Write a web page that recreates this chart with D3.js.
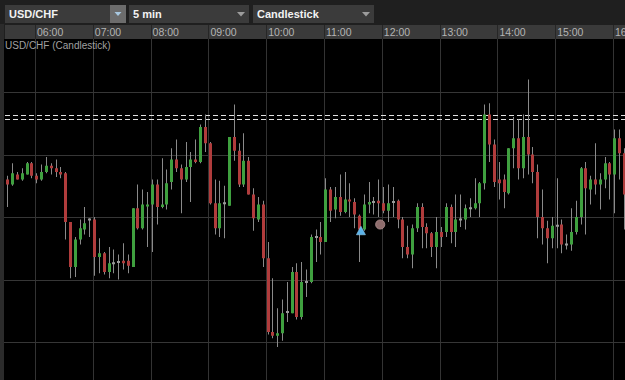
<!DOCTYPE html>
<html><head><meta charset="utf-8">
<script src="https://cdn.jsdelivr.net/npm/d3@7"></script>
<style>
html,body{margin:0;padding:0;background:#1f1f1f;overflow:hidden}
svg{display:block}
</style></head><body>
<script>
// ---- data ----
const symbol = "USD/CHF", intervalLabel = "5 min", chartType = "Candlestick";
const times = [
"05:30","05:35","05:40","05:45","05:50","05:55",
"06:00","06:05","06:10","06:15","06:20","06:25","06:30","06:35","06:40","06:45","06:50","06:55",
"07:00","07:05","07:10","07:15","07:20","07:25","07:30","07:35","07:40","07:45","07:50","07:55",
"08:00","08:05","08:10","08:15","08:20","08:25","08:30","08:35","08:40","08:45","08:50","08:55",
"09:00","09:05","09:10","09:15","09:20","09:25","09:30","09:35","09:40","09:45","09:50","09:55",
"10:00","10:05","10:10","10:15","10:20","10:25","10:30","10:35","10:40","10:45","10:50","10:55",
"11:00","11:05","11:10","11:15","11:20","11:25","11:30","11:35","11:40","11:45","11:50","11:55",
"12:00","12:05","12:10","12:15","12:20","12:25","12:30","12:35","12:40","12:45","12:50","12:55",
"13:00","13:05","13:10","13:15","13:20","13:25","13:30","13:35","13:40","13:45","13:50","13:55",
"14:00","14:05","14:10","14:15","14:20","14:25","14:30","14:35","14:40","14:45","14:50","14:55",
"15:00","15:05","15:10","15:15","15:20","15:25","15:30","15:35","15:40","15:45","15:50","15:55",
"16:00","16:05","16:10"];
const open = [
0.92430,0.92426,0.92434,0.92430,0.92434,0.92443,0.92433,0.92430,0.92436,0.92441,0.92439,0.92436,0.92435,0.92396,0.92360,0.92382,0.92390,0.92398,0.92398,0.92368,
0.92371,0.92356,0.92363,0.92364,0.92365,0.92365,0.92360,0.92407,0.92391,0.92409,0.92410,0.92426,0.92408,0.92410,0.92428,0.92446,0.92439,0.92430,0.92440,0.92446,
0.92444,0.92472,0.92459,0.92411,0.92391,0.92411,0.92409,0.92464,0.92453,0.92426,0.92445,0.92418,0.92398,0.92410,0.92367,0.92308,0.92305,0.92307,0.92324,0.92323,
0.92356,0.92320,0.92348,0.92348,0.92384,0.92384,0.92380,0.92422,0.92406,0.92416,0.92404,0.92414,0.92412,0.92401,0.92390,0.92410,0.92412,0.92413,0.92411,0.92405,
0.92412,0.92413,0.92398,0.92376,0.92370,0.92391,0.92408,0.92392,0.92387,0.92376,0.92388,0.92388,0.92408,0.92388,0.92398,0.92398,0.92407,0.92407,0.92411,0.92427,
0.92482,0.92458,0.92430,0.92430,0.92419,0.92455,0.92463,0.92439,0.92464,0.92450,0.92436,0.92400,0.92391,0.92383,0.92393,0.92394,0.92378,0.92378,0.92388,0.92400,
0.92439,0.92422,0.92430,0.92426,0.92430,0.92443,0.92434,0.92463,0.92451];
const high = [
0.92433,0.92443,0.92436,0.92439,0.92444,0.92444,0.92435,0.92442,0.92448,0.92443,0.92446,0.92440,0.92436,0.92396,0.92384,0.92398,0.92408,0.92399,0.92400,0.92383,
0.92372,0.92376,0.92374,0.92370,0.92379,0.92370,0.92407,0.92426,0.92422,0.92420,0.92430,0.92430,0.92447,0.92438,0.92455,0.92462,0.92442,0.92460,0.92452,0.92462,
0.92474,0.92482,0.92460,0.92430,0.92429,0.92425,0.92464,0.92490,0.92459,0.92467,0.92448,0.92423,0.92416,0.92413,0.92380,0.92351,0.92327,0.92334,0.92348,0.92360,
0.92363,0.92364,0.92358,0.92386,0.92390,0.92396,0.92431,0.92424,0.92424,0.92434,0.92436,0.92427,0.92415,0.92402,0.92418,0.92428,0.92416,0.92430,0.92424,0.92426,
0.92424,0.92414,0.92400,0.92393,0.92394,0.92411,0.92411,0.92395,0.92388,0.92400,0.92392,0.92411,0.92410,0.92418,0.92418,0.92410,0.92415,0.92431,0.92428,0.92490,
0.92491,0.92462,0.92444,0.92434,0.92455,0.92480,0.92478,0.92482,0.92510,0.92456,0.92442,0.92422,0.92397,0.92400,0.92431,0.92398,0.92386,0.92407,0.92413,0.92440,
0.92444,0.92433,0.92459,0.92435,0.92448,0.92444,0.92470,0.92470,0.92455];
const low = [
0.92408,0.92425,0.92430,0.92429,0.92434,0.92431,0.92427,0.92429,0.92435,0.92434,0.92432,0.92431,0.92382,0.92351,0.92352,0.92378,0.92386,0.92384,0.92353,0.92355,
0.92354,0.92351,0.92355,0.92350,0.92358,0.92355,0.92360,0.92390,0.92390,0.92376,0.92372,0.92394,0.92407,0.92406,0.92422,0.92436,0.92403,0.92428,0.92412,0.92443,
0.92443,0.92452,0.92410,0.92386,0.92384,0.92383,0.92409,0.92445,0.92424,0.92424,0.92418,0.92389,0.92396,0.92360,0.92306,0.92303,0.92296,0.92301,0.92316,0.92323,
0.92318,0.92318,0.92336,0.92347,0.92364,0.92370,0.92380,0.92396,0.92399,0.92401,0.92403,0.92400,0.92391,0.92364,0.92389,0.92403,0.92402,0.92400,0.92403,0.92396,
0.92400,0.92391,0.92367,0.92367,0.92359,0.92388,0.92375,0.92375,0.92368,0.92359,0.92376,0.92384,0.92379,0.92376,0.92392,0.92390,0.92400,0.92406,0.92400,0.92422,
0.92444,0.92424,0.92414,0.92407,0.92418,0.92439,0.92430,0.92431,0.92434,0.92427,0.92383,0.92378,0.92363,0.92375,0.92375,0.92371,0.92374,0.92373,0.92386,0.92394,
0.92386,0.92410,0.92418,0.92406,0.92423,0.92414,0.92403,0.92430,0.92390];
const close = [
0.92426,0.92435,0.92430,0.92435,0.92443,0.92433,0.92430,0.92436,0.92441,0.92439,0.92436,0.92434,0.92396,0.92360,0.92382,0.92391,0.92395,0.92398,0.92368,0.92371,
0.92356,0.92363,0.92363,0.92364,0.92363,0.92361,0.92407,0.92391,0.92410,0.92410,0.92426,0.92408,0.92410,0.92427,0.92446,0.92439,0.92430,0.92440,0.92446,0.92444,
0.92472,0.92459,0.92411,0.92391,0.92411,0.92411,0.92464,0.92453,0.92426,0.92445,0.92418,0.92399,0.92410,0.92367,0.92308,0.92305,0.92307,0.92323,0.92324,0.92356,
0.92320,0.92348,0.92348,0.92384,0.92384,0.92380,0.92422,0.92405,0.92416,0.92404,0.92414,0.92413,0.92402,0.92390,0.92410,0.92412,0.92412,0.92411,0.92405,0.92411,
0.92412,0.92398,0.92376,0.92370,0.92391,0.92408,0.92392,0.92387,0.92376,0.92388,0.92384,0.92408,0.92388,0.92398,0.92398,0.92407,0.92407,0.92411,0.92427,0.92482,
0.92458,0.92428,0.92427,0.92420,0.92455,0.92463,0.92439,0.92464,0.92450,0.92436,0.92400,0.92391,0.92383,0.92393,0.92393,0.92378,0.92378,0.92388,0.92400,0.92439,
0.92423,0.92430,0.92426,0.92430,0.92443,0.92434,0.92463,0.92451,0.92418];
const hourTicks = ["06:00","07:00","08:00","09:00","10:00","11:00","12:00","13:00","14:00","15:00","16:00"];
const gridPrices = [0.9230, 0.9235, 0.9240, 0.9245, 0.9250];
const levelPrices = [0.92482, 0.92478];
const markerTimes = ["11:37", "11:57"];
const markerPrices = [0.92389, 0.92394];
const markerKinds = ["triangle", "circle"];

// ---- drawing ----
const W = 625, H = 380;
const plotTop = 39, plotLeft = 4;
const parse = d3.timeParse("%H:%M");
const x = d3.scaleTime().domain([parse("06:00"), parse("16:00")]).range([35, 613]);
const y = d3.scaleLinear().domain([0.9230, 0.9250]).range([342, 92]);
const barOffset = 1.3;
const font = "'Liberation Sans', Arial, sans-serif";

const svg = d3.select("body").append("svg").attr("width", W).attr("height", H);
svg.append("rect").attr("width", W).attr("height", H).attr("fill", "#1f1f1f");
svg.append("rect").attr("x", 0).attr("y", 24).attr("width", plotLeft).attr("height", H - 24).attr("fill", "#2b2b2b");
svg.append("rect").attr("x", plotLeft).attr("y", plotTop).attr("width", W - plotLeft).attr("height", H - plotTop).attr("fill", "#000");

// axis row
svg.append("rect").attr("x", 5).attr("y", 25).attr("width", W - 5).attr("height", plotTop - 25).attr("fill", "#3a3a3a");

const defs = svg.append("defs");
defs.append("clipPath").attr("id", "plotclip").append("rect")
  .attr("x", plotLeft).attr("y", plotTop).attr("width", W - plotLeft).attr("height", H - plotTop);

// grid
const grid = svg.append("g");
grid.selectAll("line.v").data(hourTicks).join("line")
  .attr("x1", d => Math.round(x(parse(d))) + 0.5).attr("x2", d => Math.round(x(parse(d))) + 0.5)
  .attr("y1", plotTop).attr("y2", H).attr("stroke", "#333").attr("stroke-width", 1);
grid.selectAll("line.s").data(hourTicks).join("line")
  .attr("x1", d => Math.round(x(parse(d))) + 0.5).attr("x2", d => Math.round(x(parse(d))) + 0.5)
  .attr("y1", 25).attr("y2", plotTop).attr("stroke", "#262626").attr("stroke-width", 1);
grid.selectAll("line.h").data(gridPrices).join("line")
  .attr("x1", plotLeft).attr("x2", W)
  .attr("y1", d => Math.round(y(d)) + 0.5).attr("y2", d => Math.round(y(d)) + 0.5)
  .attr("stroke", "#363636").attr("stroke-width", 1);

// tick labels
svg.append("g").selectAll("text").data(hourTicks).join("text")
  .attr("x", d => x(parse(d)) + 2).attr("y", 36)
  .attr("fill", "#b4b4b4").attr("font-family", font).attr("font-size", 10.5)
  .text(d => d);

// subtitle
svg.append("text").attr("x", 5).attr("y", 49).attr("fill", "#a0a0a0")
  .attr("font-family", font).attr("font-size", 10).text(symbol + " (" + chartType + ")");

// level lines
svg.append("g").selectAll("line").data(levelPrices).join("line")
  .attr("x1", plotLeft + 1).attr("x2", W)
  .attr("y1", d => Math.round(y(d)) + 0.5).attr("y2", d => Math.round(y(d)) + 0.5)
  .attr("stroke", "#e0e0e0").attr("stroke-width", 1.2).attr("stroke-dasharray", "5,3");

// candles
const candles = times.map((t, i) => ({t: parse(t), o: open[i], h: high[i], l: low[i], c: close[i]}));
const cg = svg.append("g").attr("clip-path", "url(#plotclip)");
cg.selectAll("line.w").data(candles).join("line")
  .attr("x1", d => Math.round(x(d.t) + barOffset) + 0.5).attr("x2", d => Math.round(x(d.t) + barOffset) + 0.5)
  .attr("y1", d => y(d.h)).attr("y2", d => y(d.l))
  .attr("stroke", "#8a8a8a").attr("stroke-width", 1);
cg.selectAll("rect.b").data(candles).join("rect")
  .attr("x", d => Math.round(x(d.t) + barOffset) - 1)
  .attr("width", 3)
  .attr("y", d => Math.min(y(d.o), y(d.c)) - (d.o === d.c ? 1 : 0))
  .attr("height", d => Math.max(2, Math.abs(y(d.o) - y(d.c))))
  .attr("fill", d => d.c > d.o ? "#3fa03f" : d.c < d.o ? "#b03c3c" : "#9a9a9a");

// markers
const markers = markerTimes.map((t, i) => ({t: parse(t), p: markerPrices[i], k: markerKinds[i]}));
markers.forEach(m => {
  const mx = x(m.t) + barOffset, my = y(m.p);
  if (m.k === "triangle") {
    svg.append("path").attr("d", `M${mx},${my - 4.5}L${mx + 4.5},${my + 4}L${mx - 4.5},${my + 4}Z`)
      .attr("fill", "#5cb3ea").attr("stroke", "#8fd0f5").attr("stroke-width", 0.6);
  } else {
    svg.append("circle").attr("cx", mx).attr("cy", my).attr("r", 4.6)
      .attr("fill", "#8e6c6c").attr("stroke", "#b39292").attr("stroke-width", 0.8);
  }
});

// dropdowns
function dropdown(x0, w, label, button) {
  const g = svg.append("g");
  g.append("rect").attr("x", x0).attr("y", 5).attr("width", w).attr("height", 18).attr("fill", "#3b3b3b");
  g.append("text").attr("x", x0 + 4).attr("y", 18).attr("fill", "#f2f2f2")
    .attr("font-family", font).attr("font-weight", "bold").attr("font-size", 11).text(label);
  const ax = x0 + w - 8;
  if (button) {
    g.append("rect").attr("x", x0 + w - 16).attr("y", 5).attr("width", 16).attr("height", 18).attr("fill", "#6c6c6c");
    g.append("path").attr("d", `M${ax - 3.5},12L${ax + 3.5},12L${ax},16Z`).attr("fill", "#a8c8e0");
  } else {
    g.append("path").attr("d", `M${ax - 4},12L${ax + 4},12L${ax},16.5Z`).attr("fill", "#9c9c9c");
  }
}
dropdown(5, 121, symbol, true);
dropdown(129, 120, intervalLabel, false);
dropdown(253, 121, chartType, false);
</script>
</body></html>
